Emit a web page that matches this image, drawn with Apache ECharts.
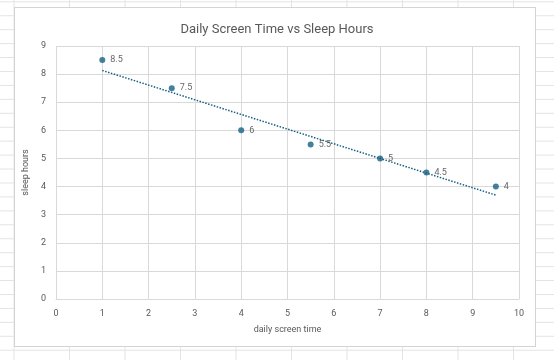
<!DOCTYPE html>
<html>
<head>
<meta charset="utf-8">
<script src="https://cdn.jsdelivr.net/npm/echarts@6/dist/echarts.min.js"></script>
<style>
  html, body { margin: 0; padding: 0; width: 554px; height: 360px; overflow: hidden; background: #ffffff; }
  #sheet { position: absolute; left: 0; top: 0; width: 554px; height: 360px;
    background-image: linear-gradient(to right, #e3e3e3 1px, transparent 1px), linear-gradient(to bottom, #e3e3e3 1px, transparent 1px);
    background-size: 55.5px 100%, 100% 13.95px;
    background-position: 13.5px 0, 0 1.3px; }
  #box { position: absolute; left: 14px; top: 7px; width: 522px; height: 340px; box-sizing: border-box;
    background: #ffffff; border: 1px solid #d4d4d4; }
  #chart { position: absolute; left: 0; top: 0; width: 554px; height: 360px; }
</style>
</head>
<body>
<div id="sheet"></div>
<div id="box"></div>
<div id="chart"></div>
<script>
const screenTime = [1, 2.5, 4, 5.5, 7, 8, 9.5];
const sleepHours = [8.5, 7.5, 6, 5.5, 5, 4.5, 4];
const xTicks = [0, 1, 2, 3, 4, 5, 6, 7, 8, 9, 10];
const yTicks = [0, 1, 2, 3, 4, 5, 6, 7, 8, 9];

// linear trendline (least squares) from the data
const n = screenTime.length;
const mx = screenTime.reduce((a, b) => a + b, 0) / n;
const my = sleepHours.reduce((a, b) => a + b, 0) / n;
let sxy = 0, sxx = 0;
for (let i = 0; i < n; i++) { sxy += (screenTime[i] - mx) * (sleepHours[i] - my); sxx += (screenTime[i] - mx) ** 2; }
const slope = sxy / sxx, icpt = my - slope * mx;
const xMin = Math.min(...screenTime), xMax = Math.max(...screenTime);
const trend = [[xMin, icpt + slope * xMin], [xMax, icpt + slope * xMax]];

const font = 'Roboto, "Liberation Sans", sans-serif';
const grayText = '#595959';
const gridColor = '#d9d9d9';
const accent = '#156082';

const chart = echarts.init(document.getElementById('chart'), null, { renderer: 'canvas' });
chart.setOption({
  backgroundColor: 'transparent',
  animation: false,
  textStyle: { fontFamily: font },
  title: {
    text: 'Daily Screen Time vs Sleep Hours',
    left: 'center', top: 18,
    textStyle: { fontFamily: font, fontSize: 13, fontWeight: 'normal', color: grayText }
  },
  grid: { left: 56, right: 35, top: 46, bottom: 61, containLabel: false },
  xAxis: {
    type: 'value', min: xTicks[0], max: xTicks[xTicks.length - 1], interval: 1,
    name: 'daily screen time', nameLocation: 'middle', nameGap: 26,
    nameTextStyle: { fontFamily: font, fontSize: 9, color: grayText },
    axisLine: { show: true, lineStyle: { color: gridColor } },
    axisTick: { show: false },
    axisLabel: { fontFamily: font, fontSize: 9, color: grayText, margin: 10 },
    splitLine: { show: true, lineStyle: { color: gridColor, width: 1 } }
  },
  yAxis: {
    type: 'value', min: yTicks[0], max: yTicks[yTicks.length - 1], interval: 1,
    name: 'sleep hours', nameLocation: 'middle', nameGap: 18,
    nameTextStyle: { fontFamily: font, fontSize: 9, color: grayText },
    axisLine: { show: false },
    axisTick: { show: false },
    axisLabel: { fontFamily: font, fontSize: 9, color: grayText, margin: 10 },
    splitLine: { show: true, lineStyle: { color: gridColor, width: 1 } }
  },
  series: [
    {
      type: 'line', data: trend, symbol: 'none', silent: true, z: 3,
      lineStyle: { color: accent, width: 1.5, type: [1.5, 1.5] }
    },
    {
      type: 'scatter', z: 4,
      data: screenTime.map((x, i) => [x, sleepHours[i]]),
      symbol: 'circle', symbolSize: 6,
      itemStyle: { color: accent },
      label: {
        show: true, position: 'right', distance: 5,
        formatter: p => String(p.value[1]),
        fontFamily: font, fontSize: 9, color: '#404040'
      }
    }
  ]
});
</script>
</body>
</html>
